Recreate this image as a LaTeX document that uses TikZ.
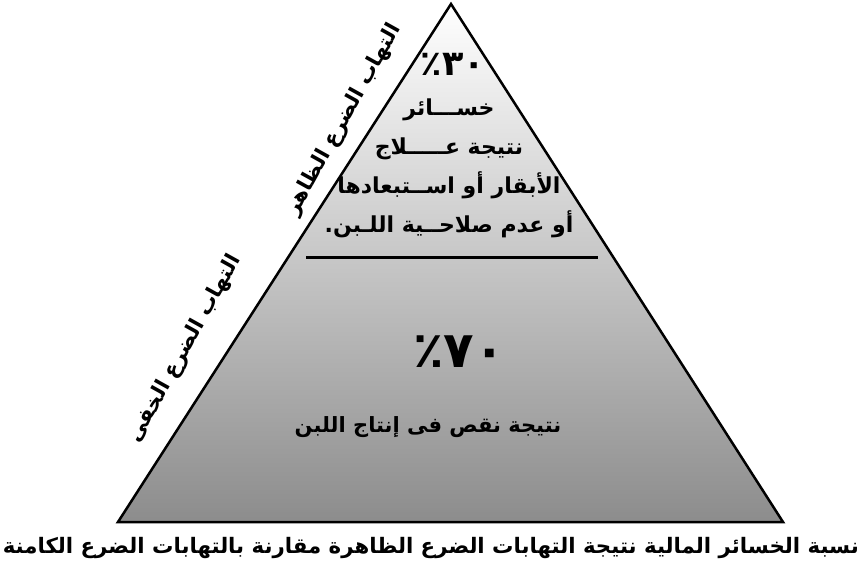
\documentclass[tikz,border=0pt]{standalone}
\usepackage{fontspec}
\newfontfamily\arabicfont[Script=Arabic]{DejaVu Sans}
\TeXXeTstate=1
\tikzset{
  ar/.style={font=\arabicfont\bfseries, inner sep=0pt},
  pyr/.style={draw=black, line width=2.5pt, line join=miter, top color=white, bottom color=black!45}
}
\begin{document}
\begin{tikzpicture}[x=1pt,y=-1pt]
\useasboundingbox (0,0) rectangle (863,569);
\coordinate (top) at (451,4);
\coordinate (bl) at (118,522);
\coordinate (br) at (783,522);
\coordinate (sepL) at (306,258);
\coordinate (sepR) at (598,258);
\draw[pyr] (top) -- (br) -- (bl) -- cycle;
\draw[line width=3pt] (sepL) -- (sepR);
% upper part
\node[ar, font=\arabicfont\bfseries\fontsize{35}{35}\selectfont] (p30) at (453,64) {\beginR ٣٠٪\endR};
\node[ar, align=center, font=\arabicfont\bfseries\fontsize{22}{39}\selectfont] (loss) at (449,168)
  {\beginR خســـائر\endR\\ \beginR نتيجة عـــــلاج\endR\\ \beginR الأبقار أو اســتبعادها\endR\\ \beginR أو عدم صلاحــية اللـبن.\endR};
% lower part
\node[ar, font=\arabicfont\bfseries\fontsize{50}{50}\selectfont] (p70) at (459,352) {\beginR ٧٠٪\endR};
\node[ar, font=\arabicfont\bfseries\fontsize{21}{24}\selectfont] (milk) at (428,427) {\beginR نتيجة نقص فى إنتاج اللبن\endR};
% side labels
\node[ar, rotate=61, font=\arabicfont\bfseries\fontsize{21}{21}\selectfont] (clin) at (344,120) {\beginR التهاب الضرع الظاهر\endR};
\node[ar, rotate=61, font=\arabicfont\bfseries\fontsize{21}{21}\selectfont] (sub) at (185,349) {\beginR التهاب الضرع الخفى\endR};
% caption
\node[ar, font=\arabicfont\bfseries\fontsize{21.3}{24}\selectfont] (cap) at (431,548) {\beginR نسبة الخسائر المالية نتيجة التهابات الضرع الظاهرة مقارنة بالتهابات الضرع الكامنة\endR};
\end{tikzpicture}
\end{document}
